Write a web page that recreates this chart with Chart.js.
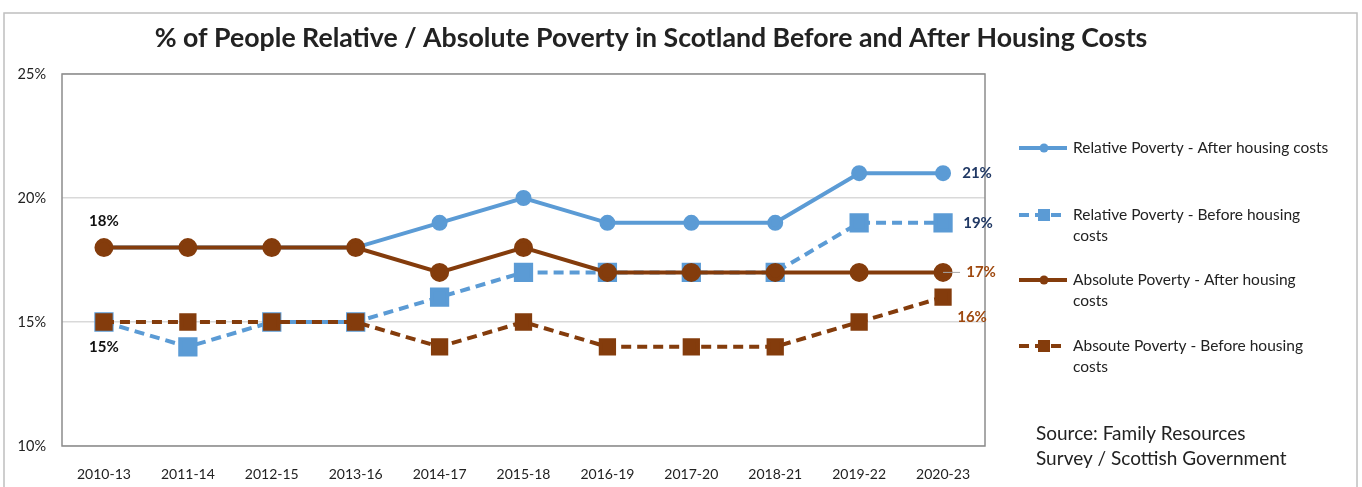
<!DOCTYPE html>
<html>
<head>
<meta charset="utf-8">
<title>Poverty in Scotland</title>
<script src="https://cdn.jsdelivr.net/npm/chart.js@4"></script>
<style>
  html, body { margin: 0; padding: 0; background: #fff; }
</style>
</head>
<body>
<canvas id="poverty" width="1362" height="487"></canvas>
<script>
'use strict';

const years = ["2010-13", "2011-14", "2012-15", "2013-16", "2014-17", "2015-18", "2016-19", "2017-20", "2018-21", "2019-22", "2020-23"];
const relativeAfter = [18, 18, 18, 18, 19, 20, 19, 19, 19, 21, 21];
const relativeBefore = [15, 14, 15, 15, 16, 17, 17, 17, 17, 19, 19];
const absoluteAfter = [18, 18, 18, 18, 17, 18, 17, 17, 17, 17, 17];
const absoluteBefore = [15, 15, 15, 15, 14, 15, 14, 14, 14, 15, 16];
const seriesNames = [
  ["Relative Poverty - After housing costs"],
  ["Relative Poverty - Before housing", "costs"],
  ["Absolute Poverty - After housing", "costs"],
  ["Absoute Poverty - Before housing", "costs"]
];
const yMin = 10, yMax = 25, yStep = 5;

const BLUE = "#5b9bd5";
const BROWN = "#843c0c";
const FONT = "Lato";

// legend, title, source note, frames and value labels
let decorations = {
  id: 'decorations',
  afterDatasetsDraw(chart) {
    let ctx = chart.ctx;
    let area = chart.chartArea;
    ctx.save();

    // plot frame
    ctx.strokeStyle = "#8c8c8c";
    ctx.lineWidth = 1.5;
    ctx.strokeRect(area.left, area.top, area.right - area.left, area.bottom - area.top);

    // value labels
    ctx.textAlign = "center";
    ctx.textBaseline = "middle";
    ctx.font = "bold 15px " + FONT;
    chart.options.plugins.decorations.labels.forEach(function (l) {
      let pt = chart.getDatasetMeta(l.ds).data[l.i];
      let v = chart.data.datasets[l.ds].data[l.i];
      if (l.leader) {
        ctx.strokeStyle = "#a6a6a6";
        ctx.lineWidth = 1;
        ctx.beginPath();
        ctx.moveTo(pt.x, pt.y);
        ctx.lineTo(pt.x + l.leader, pt.y);
        ctx.stroke();
      }
      ctx.fillStyle = l.color;
      ctx.fillText(v + "%", pt.x + l.dx, pt.y + l.dy);
    });

    // title
    ctx.fillStyle = "#222";
    ctx.font = "bold 26.7px " + FONT;
    ctx.fillText("% of People Relative / Absolute Poverty in Scotland Before and After Housing Costs", 651, 38);

    // legend
    let rows = [148, 215, 280, 346];
    let sets = [0, 1, 2, 3];
    ctx.textAlign = "left";
    ctx.font = "15.5px " + FONT;
    sets.forEach(function (s, k) {
      let ds = chart.data.datasets[s];
      let y = rows[k];
      ctx.strokeStyle = ds.borderColor;
      ctx.lineWidth = 4;
      ctx.setLineDash(ds.borderDash || []);
      ctx.beginPath();
      ctx.moveTo(1019, y);
      ctx.lineTo(1067, y);
      ctx.stroke();
      ctx.setLineDash([]);
      ctx.fillStyle = ds.borderColor;
      if (ds.pointStyle === 'rect') {
        ctx.fillRect(1038, y - 6, 12, 12);
      } else {
        ctx.beginPath();
        ctx.arc(1044, y, 4.5, 0, Math.PI * 2);
        ctx.fill();
      }
      ctx.fillStyle = "#222";
      seriesNames[s].forEach(function (line, j) {
        ctx.fillText(line, 1073, y + j * 21);
      });
    });

    // source note
    ctx.font = "19px " + FONT;
    ctx.fillText("Source: Family Resources", 1036, 434);
    ctx.fillText("Survey / Scottish Government", 1036, 459);

    // outer frame
    ctx.strokeStyle = "#bfbfbf";
    ctx.lineWidth = 1.5;
    ctx.strokeRect(4, 13, 1353, 490);
    ctx.restore();
  }
};

let chart = new Chart(document.getElementById("poverty"), {
  type: 'line',
  data: {
    labels: years,
    datasets: [{
      label: seriesNames[0].join(" "),
      data: relativeAfter,
      borderColor: BLUE,
      backgroundColor: BLUE,
      borderWidth: 4,
      pointStyle: 'circle',
      pointRadius: 6,
      order: 2
    }, {
      label: seriesNames[1].join(" "),
      data: relativeBefore,
      borderColor: BLUE,
      backgroundColor: BLUE,
      borderWidth: 4,
      borderDash: [10, 6],
      pointStyle: 'rect',
      pointRadius: 10.8,
      order: 3
    }, {
      label: seriesNames[2].join(" "),
      data: absoluteAfter,
      borderColor: BROWN,
      backgroundColor: BROWN,
      borderWidth: 4,
      pointStyle: 'circle',
      pointRadius: 7.5,
      order: 0
    }, {
      label: seriesNames[3].join(" "),
      data: absoluteBefore,
      borderColor: BROWN,
      backgroundColor: BROWN,
      borderWidth: 4,
      borderDash: [10, 6],
      pointStyle: 'rect',
      pointRadius: 9.4,
      order: 1
    }]
  },
  options: {
    responsive: false,
    animation: false,
    layout: {
      padding: { top: 74, right: 377, bottom: 0, left: 0 }
    },
    elements: {
      line: { tension: 0 },
      point: { borderWidth: 0, hoverRadius: 8 }
    },
    scales: {
      x: {
        offset: true,
        grid: { display: false },
        border: { display: false },
        ticks: { color: "#222", font: { family: FONT, size: 14 }, padding: 12, maxRotation: 0 },
        afterFit: function (scale) { scale.height = 41; }
      },
      y: {
        min: yMin,
        max: yMax,
        grid: { color: "#d9d9d9", lineWidth: 1.5, drawTicks: false },
        border: { display: false },
        ticks: {
          stepSize: yStep,
          color: "#222",
          font: { family: FONT, size: 14.5 },
          padding: 16,
          callback: function (value) {
            return value + '%';
          }
        },
        afterFit: function (scale) { scale.width = 62; }
      }
    },
    plugins: {
      legend: { display: false },
      tooltip: { enabled: false },
      decorations: {
        labels: [
          { ds: 2, i: 0, dx: 0, dy: -26, color: "#111" },
          { ds: 1, i: 0, dx: 0, dy: 25, color: "#111" },
          { ds: 0, i: 10, dx: 34, dy: 0, color: "#203864" },
          { ds: 1, i: 10, dx: 35, dy: 0, color: "#203864" },
          { ds: 2, i: 10, dx: 38, dy: 0, color: "#9e480e", leader: 17 },
          { ds: 3, i: 10, dx: 29, dy: 20, color: "#9e480e" }
        ]
      }
    }
  },
  plugins: [decorations]
});
</script>
</body>
</html>
